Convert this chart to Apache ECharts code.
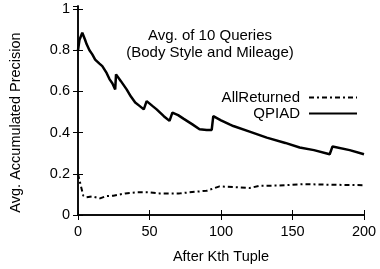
<!DOCTYPE html>
<html><head><meta charset="utf-8">
<script src="https://cdn.jsdelivr.net/npm/echarts@6/dist/echarts.min.js"></script>
<style>html,body{margin:0;padding:0;background:#fff}#c{width:380px;height:269px}</style>
</head><body><div id="c"></div>
<script>
const qpiadX = [0,1,3,5,6,8,10,12,15,17,20,22,24,26,26.6,30,34,37,40,43,46,48,52,55,60,64,66,70,73.7,80,85,90,93.5,94.6,100,106,108.6,120,132,145,155,165,176,178,190,200];
const qpiadY = [0.80,0.85,0.885,0.85,0.83,0.80,0.78,0.755,0.735,0.723,0.69,0.66,0.64,0.61,0.683,0.65,0.61,0.575,0.546,0.53,0.513,0.553,0.53,0.513,0.48,0.457,0.497,0.485,0.468,0.44,0.416,0.413,0.413,0.48,0.46,0.44,0.432,0.405,0.376,0.35,0.328,0.315,0.295,0.333,0.315,0.295];
const allX = [0,1,3.7,6,10,15.4,20,24.7,33,41,49,57,71,78,90,99,110,120,127,140,157.6,175,200];
const allY = [0.199,0.17,0.094,0.086,0.09,0.081,0.092,0.094,0.105,0.11,0.11,0.105,0.105,0.11,0.118,0.139,0.135,0.131,0.142,0.143,0.15,0.147,0.145];
const yTicks = [0,0.2,0.4,0.6,0.8,1];
const xTicks = [0,50,100,150,200];
const seriesNames = ['AllReturned','QPIAD'];
const titleLines = ['Avg. of 10 Queries','(Body Style and Mileage)'];

const font = 'Liberation Sans, Arial, Helvetica, sans-serif';
const pair = (xs, ys) => xs.map((x,i)=>[x, ys[i]]);
const chart = echarts.init(document.getElementById('c'), null, {renderer:'canvas'});
const axLine = {show:true, lineStyle:{color:'#000', width:1.5}};
const tick = {show:true, inside:true, length:5, lineStyle:{color:'#000', width:1}};
chart.setOption({
  animation:false,
  backgroundColor:'#fff',
  textStyle:{fontFamily:font},
  title:{text:titleLines.join('\n'), left:205, top:22, textAlign:'center',
    textStyle:{fontFamily:font, fontSize:15, fontWeight:'normal', color:'#000', lineHeight:17}},
  legend:{orient:'vertical', right:17, top:85, align:'right', itemWidth:48, itemHeight:14, itemGap:1,
    itemStyle:{opacity:0},
    textStyle:{fontFamily:font, fontSize:15, color:'#000', padding:[0,4,0,0]},
    data:seriesNames},
  grid:{left:78, right:16, top:6, bottom:53},
  xAxis:[
    {type:'value', min:0, max:200, interval:50, axisLine:axLine, axisTick:tick, splitLine:{show:false},
     name:'After Kth Tuple', nameLocation:'middle', nameGap:34,
     nameTextStyle:{fontFamily:font, fontSize:14.5, color:'#000'},
     axisLabel:{fontFamily:font, fontSize:14.5, color:'#000', margin:9,
       formatter:v=>xTicks.includes(v)?String(v):''}},
    {type:'value', position:'top', min:0, max:200, interval:50, axisLine:axLine, axisTick:tick,
     splitLine:{show:false}, axisLabel:{show:false}}
  ],
  yAxis:[
    {type:'value', min:0, max:1.015, interval:0.2, axisLine:axLine, axisTick:tick, splitLine:{show:false},
     name:'Avg. Accumulated Precision', nameLocation:'middle', nameGap:55,
     nameTextStyle:{fontFamily:font, fontSize:14.5, color:'#000', padding:[0,24,0,0]},
     axisLabel:{fontFamily:font, fontSize:14.5, color:'#000', margin:8, showMaxLabel:false,
       formatter:v=>{const t=yTicks.find(k=>Math.abs(k-v)<1e-6);return t===undefined?'':String(t);}}},
    {type:'value', position:'right', min:0, max:1.015, interval:0.2, axisLine:axLine, axisTick:tick,
     splitLine:{show:false}, axisLabel:{show:false}}
  ],
  series:[
    {name:seriesNames[0], type:'line', data:pair(allX, allY), symbol:'none', color:'#000',
     lineStyle:{color:'#000', width:2, type:[5,3,2,3]}},
    {name:seriesNames[1], type:'line', data:pair(qpiadX, qpiadY), symbol:'none', color:'#000',
     lineStyle:{color:'#000', width:2.5}}
  ]
});
</script></body></html>
